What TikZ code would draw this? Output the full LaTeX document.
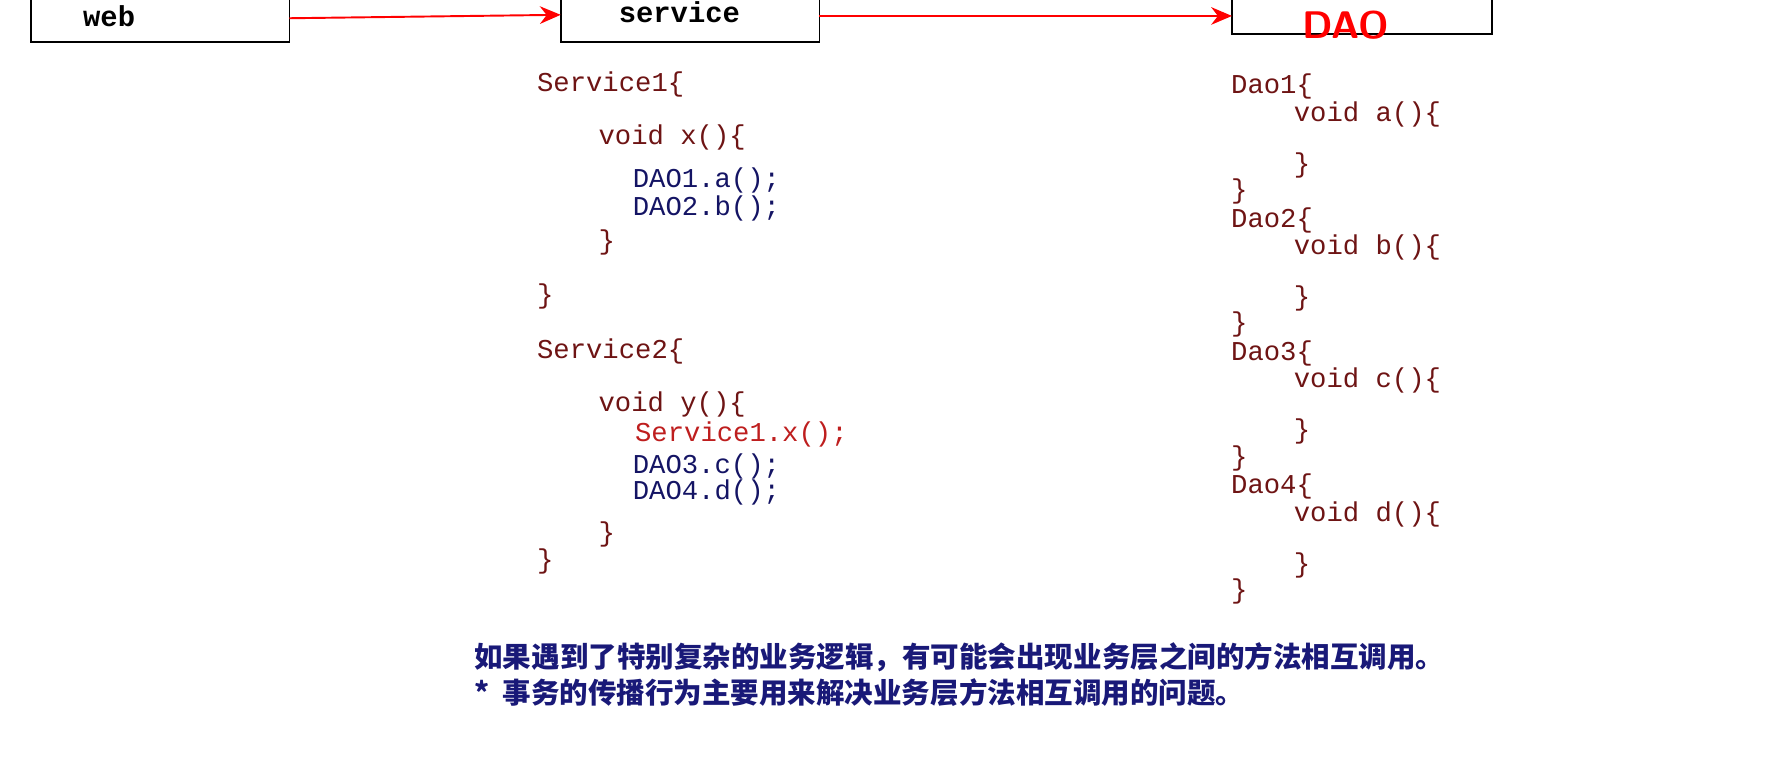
\documentclass[tikz,border=0pt]{standalone}
\usepackage{fontspec}
\setmonofont{Liberation Mono}
\newfontfamily\cjk{Noto Sans CJK SC}
\usetikzlibrary{arrows.meta}
\definecolor{codered}{RGB}{110,20,20}
\definecolor{codeblue}{RGB}{20,20,100}
\definecolor{notered}{RGB}{190,30,30}
\definecolor{noteblue}{RGB}{25,25,120}
\tikzset{
layer/.style={draw, line width=1pt},
call/.style={draw=red, line width=1.2pt, -{Stealth[length=13pt,width=11pt]}},
code/.style={anchor=west, inner sep=0pt, font=\ttfamily\fontsize{17}{17}\selectfont, text=codered},
inner/.style={code, text=codeblue},
note/.style={anchor=west, inner sep=0pt, font=\cjk\bfseries\fontsize{17.8}{17.8}\selectfont, text=noteblue}
}
\begin{document}
\begin{tikzpicture}[x=0.025cm, y=-0.025cm]
\useasboundingbox (0,0) rectangle (1568,686);
% layer boxes
\draw[layer] (27,-5) rectangle (254,37);
\draw[layer] (492,-5) rectangle (719,37);
\draw[layer] (1081,-5) rectangle (1309,30);
\node[anchor=west, font=\ttfamily\bfseries\fontsize{18}{18}\selectfont] (web) at (68,14) {web};
\node[anchor=west, font=\ttfamily\bfseries\fontsize{18}{18}\selectfont] (service) at (538,11) {service};
\node[font=\sffamily\bfseries\fontsize{24}{24}\selectfont, text=red] (dao) at (1181,22) {DAO};
\coordinate (webR) at (254,16);
\coordinate (servL) at (492,13);
\coordinate (servR) at (719,14);
\coordinate (daoL) at (1081,14);
\draw[call] (webR) -- (servL);
\draw[call] (servR) -- (daoL);
% service code
\node[code] (s1) at (471,74) {Service1\{};
\node[code] (sx) at (525,121) {void x()\{};
\node[inner] (c1) at (555,158) {DAO1.a();};
\node[inner] (c2) at (555,183) {DAO2.b();};
\node[code] (e1) at (525,213) {\}};
\node[code] (e2) at (471,260) {\}};
\node[code] (s2) at (471,308) {Service2\{};
\node[code] (sy) at (525,355) {void y()\{};
\node[code, text=notered] (c3) at (557,381) {Service1.x();};
\node[inner] (c4) at (555,409) {DAO3.c();};
\node[inner] (c5) at (555,432) {DAO4.d();};
\node[code] (e3) at (525,469) {\}};
\node[code] (e4) at (471,493) {\}};
% dao code
\foreach \n/\m/\y in {1/a/76, 2/b/193, 3/c/310, 4/d/427} {
\node[code] (d\n) at (1080,\y) {Dao\n\{};
\node[code] (m\n) at (1135,\y+24) {void \m()\{};
\node[code] (f\n) at (1135,\y+69) {\}};
\node[code] (g\n) at (1080,\y+92) {\}};
}
% notes
\node[note] (n1) at (416,577) {如果遇到了特别复杂的业务逻辑，有可能会出现业务层之间的方法相互调用。};
\node[note] (n2) at (416,608) {*\ \ 事务的传播行为主要用来解决业务层方法相互调用的问题。};
\end{tikzpicture}
\end{document}
